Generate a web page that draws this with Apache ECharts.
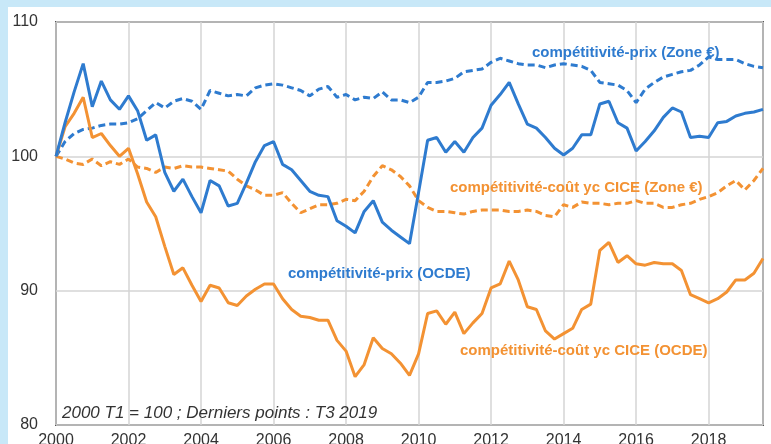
<!DOCTYPE html>
<html>
<head>
<meta charset="utf-8">
<script src="https://cdn.jsdelivr.net/npm/echarts@6/dist/echarts.min.js"></script>
<style>
  html, body { margin: 0; padding: 0; background: #c8e8f8; }
  #wrap { position: absolute; left: 8px; top: 7px; right: 0; bottom: 0; background: #fff; }
  #chart { position: absolute; left: 0; top: 0; width: 771px; height: 444px; }
</style>
</head>
<body>
<div id="wrap"></div>
<div id="chart"></div>
<script>
// trimestres de 2000 T1 à 2019 T3
const startYear = 2000;
const xTicks = [2000, 2002, 2004, 2006, 2008, 2010, 2012, 2014, 2016, 2018];
const yTicks = [80, 90, 100, 110];

// compétitivité-prix (OCDE)
const prixOcde = [
  100.0, 102.5, 104.8, 106.9, 103.7, 105.6, 104.2, 103.5, 104.5, 103.4,
  101.2, 101.6, 98.8, 97.4, 98.3, 97.0, 95.8, 98.2, 97.8, 96.3,
  96.5, 98.0, 99.6, 100.8, 101.1, 99.4, 99.0, 98.2, 97.4, 97.1,
  97.0, 95.2, 94.8, 94.3, 95.9, 96.7, 95.1, 94.5, 94.0, 93.5,
  97.3, 101.2, 101.4, 100.3, 101.1, 100.3, 101.4, 102.1, 103.8, 104.6,
  105.5, 103.9, 102.4, 102.1, 101.4, 100.6, 100.1, 100.6, 101.6, 101.6,
  103.9, 104.1, 102.5, 102.1, 100.4, 101.1, 101.9, 102.9, 103.6, 103.3,
  101.4, 101.5, 101.4, 102.5, 102.6, 103.0, 103.2, 103.3, 103.5
];

// compétitivité-prix (Zone €)
const prixZone = [
  100.0, 101.1, 101.7, 102.0, 102.1, 102.3, 102.4, 102.4, 102.5, 102.8,
  103.4, 104.0, 103.6, 104.1, 104.3, 104.1, 103.5, 104.9, 104.7, 104.5,
  104.6, 104.5, 105.1, 105.3, 105.4, 105.3, 105.1, 104.9, 104.5, 105.0,
  105.2, 104.4, 104.6, 104.2, 104.4, 104.3, 104.8, 104.2, 104.2, 104.0,
  104.4, 105.5, 105.5, 105.6, 105.8, 106.3, 106.4, 106.5, 107.0, 107.3,
  107.1, 106.9, 106.8, 106.8, 106.6, 106.8, 106.9, 106.8, 106.7, 106.4,
  105.5, 105.4, 105.3, 104.9, 104.0, 105.0, 105.5, 105.9, 106.1, 106.3,
  106.4, 106.8, 107.4, 107.2, 107.2, 107.2, 106.9, 106.7, 106.6
];

// compétitivité-coût yc CICE (OCDE)
const coutOcde = [
  100.0, 102.2, 103.2, 104.4, 101.4, 101.7, 100.8, 100.0, 100.6, 98.7,
  96.6, 95.5, 93.3, 91.2, 91.7, 90.4, 89.2, 90.4, 90.2, 89.1,
  88.9, 89.6, 90.1, 90.5, 90.5, 89.4, 88.6, 88.1, 88.0, 87.8,
  87.8, 86.3, 85.5, 83.6, 84.5, 86.5, 85.7, 85.3, 84.6, 83.7,
  85.3, 88.3, 88.5, 87.5, 88.4, 86.8, 87.6, 88.3, 90.2, 90.5,
  92.2, 90.8, 88.8, 88.6, 87.0, 86.4, 86.8, 87.2, 88.6, 89.0,
  93.0, 93.6, 92.1, 92.6, 92.0, 91.9, 92.1, 92.0, 92.0, 91.5,
  89.7, 89.4, 89.1, 89.4, 89.9, 90.8, 90.8, 91.3, 92.4
];

// compétitivité-coût yc CICE (Zone €)
const coutZone = [
  100.0, 99.8, 99.5, 99.4, 99.8, 99.3, 99.6, 99.4, 99.8, 99.2,
  99.1, 98.8, 99.2, 99.1, 99.3, 99.2, 99.2, 99.1, 99.0, 98.9,
  98.3, 97.8, 97.5, 97.1, 97.1, 97.3, 96.5, 95.8, 96.1, 96.4,
  96.4, 96.5, 96.8, 96.7, 97.4, 98.5, 99.3, 99.0, 98.5, 97.8,
  96.7, 96.2, 95.9, 95.9, 95.8, 95.7, 95.9, 96.0, 96.0, 96.0,
  95.9, 95.9, 96.0, 95.9, 95.6, 95.5, 96.4, 96.2, 96.6, 96.5,
  96.5, 96.4, 96.5, 96.5, 96.7, 96.5, 96.5, 96.2, 96.2, 96.4,
  96.5, 96.8, 97.0, 97.3, 97.8, 98.2, 97.5, 98.2, 99.1
];

const blue = '#2e7bcf';
const orange = '#f39233';
const labelFont = 'bold 15px Liberation Sans, Arial, sans-serif';

// une valeur par trimestre
const toPoints = (vals) => vals.map((v, i) => [startYear + i / 4, v]);

const chart = echarts.init(document.getElementById('chart'));

const lineSeries = (name, vals, color, dashed) => ({
  name: name,
  type: 'line',
  data: toPoints(vals),
  showSymbol: false,
  symbol: 'none',
  lineStyle: { color: color, width: 3, type: dashed ? [7, 4] : 'solid' },
  z: dashed ? 2 : 3
});

chart.setOption({
  animation: false,
  backgroundColor: 'transparent',
  textStyle: { fontFamily: 'Liberation Sans, Arial, sans-serif' },
  grid: {
    left: 56, top: 22, right: 8, bottom: 19,
    outerBoundsMode: 'none',
    show: true,
    borderColor: '#555',
    borderWidth: 2,
    backgroundColor: '#fff'
  },
  xAxis: {
    type: 'value',
    min: xTicks[0],
    max: 2019.5,
    interval: 2,
    axisLine: { show: false },
    axisTick: { show: false },
    axisLabel: {
      color: '#333', fontSize: 16, margin: 8, showMaxLabel: false,
      formatter: (v) => String(v)
    },
    splitLine: { show: true, lineStyle: { color: '#d4d4d4', width: 1.5 } }
  },
  yAxis: {
    type: 'value',
    min: yTicks[0],
    max: yTicks[yTicks.length - 1],
    interval: 10,
    axisLine: { show: false },
    axisTick: { show: false },
    axisLabel: { color: '#333', fontSize: 16, margin: 18 },
    splitLine: { show: true, lineStyle: { color: '#d4d4d4', width: 1.5 } }
  },
  series: [
    lineSeries('compétitivité-coût yc CICE (Zone €)', coutZone, orange, true),
    lineSeries('compétitivité-prix (Zone €)', prixZone, blue, true),
    lineSeries('compétitivité-coût yc CICE (OCDE)', coutOcde, orange, false),
    lineSeries('compétitivité-prix (OCDE)', prixOcde, blue, false)
  ],
  graphic: [
    {
      type: 'text', left: 532, top: 45, z: 10,
      style: { text: 'compétitivité-prix (Zone €)', fill: blue, font: labelFont }
    },
    {
      type: 'text', left: 450, top: 180, z: 10,
      style: { text: 'compétitivité-coût yc CICE (Zone €)', fill: orange, font: labelFont }
    },
    {
      type: 'text', left: 288, top: 266, z: 10,
      style: { text: 'compétitivité-prix (OCDE)', fill: blue, font: labelFont }
    },
    {
      type: 'text', left: 460, top: 343, z: 10,
      style: { text: 'compétitivité-coût yc CICE (OCDE)', fill: orange, font: labelFont }
    },
    {
      type: 'text', left: 62, top: 405, z: 10,
      style: { text: '2000 T1 = 100 ; Derniers points : T3 2019', fill: '#333', font: 'italic 17px Liberation Sans, Arial, sans-serif' }
    }
  ]
});
</script>
</body>
</html>
